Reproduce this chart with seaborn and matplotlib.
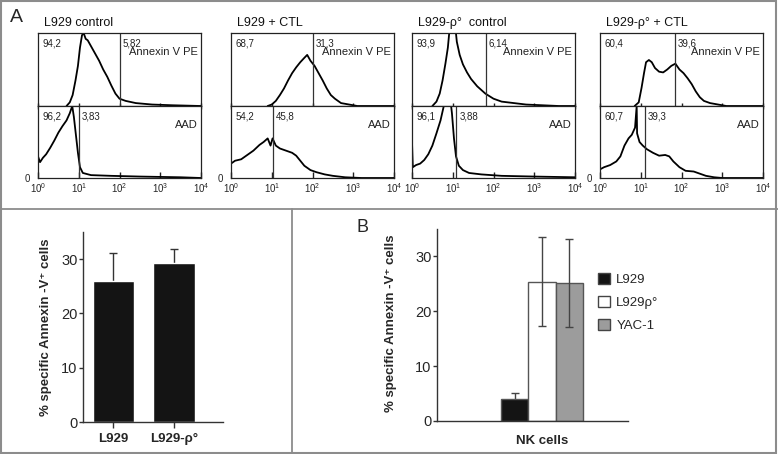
import numpy as np
import matplotlib
matplotlib.use("Agg")
import matplotlib.pyplot as plt
from matplotlib.lines import Line2D
from matplotlib.patches import Patch, Rectangle
from matplotlib.ticker import LogLocator, NullFormatter
import seaborn as sns

# ---------------- panel A: flow histograms ----------------
# x = log10 fluorescence (decade), y = relative cell count (1 = panel top)
titles = ["L929 control", "L929 + CTL", "L929-ρ°  control", "L929-ρ° + CTL"]
ann_left = ["94,2", "68,7", "93,9", "60,4"]
ann_right = ["5,82", "31,3", "6,14", "39,6"]
aad_left = ["96,2", "54,2", "96,1", "60,7"]
aad_right = ["3,83", "45,8", "3,88", "39,3"]
ann_gate = [2.0, 2.02, 1.81, 1.83]
aad_gate = [1.0, 1.04, 1.09, 1.1]
zero_label = ["0", "0", "", "0"]

p1_ann_dec = [0.70, 0.78, 0.85, 0.92, 0.98, 1.03, 1.08, 1.12, 1.17, 1.22, 1.3, 1.4, 1.5, 1.6, 1.7, 1.8, 1.9, 2.0, 2.15, 2.4, 2.8, 3.3, 4.0]
p1_ann_cnt = [0.0, 0.05, 0.15, 0.35, 0.55, 0.8, 0.97, 1.0, 0.92, 0.9, 0.82, 0.72, 0.62, 0.5, 0.4, 0.28, 0.17, 0.1, 0.07, 0.04, 0.02, 0.01, 0.0]
p1_aad_dec = [0.0, 0.05, 0.12, 0.2, 0.3, 0.4, 0.5, 0.6, 0.7, 0.78, 0.84, 0.88, 0.93, 0.98, 1.03, 1.1, 1.3, 1.8, 2.5, 3.5, 4.0]
p1_aad_cnt = [0.3, 0.22, 0.28, 0.33, 0.42, 0.52, 0.63, 0.72, 0.8, 0.9, 1.0, 0.85, 0.6, 0.35, 0.15, 0.07, 0.04, 0.03, 0.02, 0.01, 0.0]

p2_ann_dec = [0.9, 1.0, 1.1, 1.2, 1.3, 1.4, 1.5, 1.6, 1.7, 1.8, 1.87, 1.95, 2.05, 2.15, 2.25, 2.35, 2.45, 2.55, 2.7, 2.9, 3.1, 4.0]
p2_ann_cnt = [0.0, 0.02, 0.07, 0.15, 0.24, 0.35, 0.45, 0.53, 0.6, 0.66, 0.7, 0.62, 0.55, 0.45, 0.35, 0.24, 0.15, 0.1, 0.04, 0.02, 0.0, 0.0]
p2_aad_dec = [0.0, 0.1, 0.25, 0.4, 0.55, 0.7, 0.8, 0.9, 0.97, 1.02, 1.1, 1.2, 1.35, 1.5, 1.6, 1.7, 1.8, 1.95, 2.1, 2.3, 2.5, 2.8, 3.2, 4.0]
p2_aad_cnt = [0.2, 0.24, 0.26, 0.32, 0.38, 0.46, 0.5, 0.55, 0.45, 0.55, 0.45, 0.41, 0.38, 0.35, 0.31, 0.24, 0.17, 0.11, 0.08, 0.05, 0.03, 0.01, 0.0, 0.0]

p3_ann_dec = [0.5, 0.6, 0.68, 0.75, 0.82, 0.88, 0.93, 1.0, 1.06, 1.1, 1.17, 1.25, 1.35, 1.45, 1.6, 1.8, 2.0, 2.2, 2.5, 2.8, 3.2, 3.6, 4.0]
p3_ann_cnt = [0.0, 0.06, 0.17, 0.35, 0.58, 0.8, 1.1, 1.2, 1.1, 0.88, 0.7, 0.57, 0.46, 0.37, 0.27, 0.17, 0.1, 0.06, 0.04, 0.02, 0.01, 0.0, 0.0]
p3_aad_dec = [0.0, 0.02, 0.1, 0.2, 0.3, 0.4, 0.5, 0.6, 0.7, 0.78, 0.85, 0.93, 0.98, 1.03, 1.08, 1.15, 1.25, 1.4, 1.7, 2.2, 3.0, 4.0]
p3_aad_cnt = [0.5, 0.15, 0.18, 0.2, 0.25, 0.33, 0.45, 0.62, 0.8, 1.0, 1.2, 1.15, 0.9, 0.55, 0.3, 0.17, 0.11, 0.07, 0.05, 0.03, 0.02, 0.01]

p4_ann_dec = [0.85, 0.95, 1.02, 1.08, 1.13, 1.2, 1.27, 1.35, 1.45, 1.55, 1.65, 1.75, 1.85, 1.95, 2.05, 2.15, 2.25, 2.35, 2.45, 2.55, 2.7, 2.9, 3.1, 4.0]
p4_ann_cnt = [0.0, 0.05, 0.25, 0.45, 0.6, 0.63, 0.6, 0.52, 0.47, 0.46, 0.5, 0.55, 0.58, 0.5, 0.45, 0.38, 0.3, 0.2, 0.12, 0.07, 0.04, 0.02, 0.0, 0.0]
p4_aad_dec = [0.0, 0.1, 0.25, 0.4, 0.5, 0.6, 0.7, 0.78, 0.86, 0.9, 0.91, 0.97, 1.05, 1.15, 1.3, 1.45, 1.6, 1.7, 1.8, 1.95, 2.1, 2.3, 2.45, 2.6, 2.8, 3.0, 4.0]
p4_aad_cnt = [0.12, 0.15, 0.18, 0.23, 0.3, 0.45, 0.55, 0.6, 0.7, 1.0, 0.62, 0.5, 0.45, 0.4, 0.35, 0.31, 0.32, 0.3, 0.23, 0.15, 0.1, 0.09, 0.06, 0.03, 0.01, 0.0, 0.0]

ann_curves = [(p1_ann_dec, p1_ann_cnt), (p2_ann_dec, p2_ann_cnt),
              (p3_ann_dec, p3_ann_cnt), (p4_ann_dec, p4_ann_cnt)]
aad_curves = [(p1_aad_dec, p1_aad_cnt), (p2_aad_dec, p2_aad_cnt),
              (p3_aad_dec, p3_aad_cnt), (p4_aad_dec, p4_aad_cnt)]

# ---------------- bar charts ----------------
ctl_groups = ["L929", "L929-ρ°"]
ctl_mean = [26.0, 29.3]
ctl_err = [5.1, 2.6]

nk_targets = ["L929", "L929ρ°", "YAC-1"]
nk_mean = [4.0, 25.4, 25.1]
nk_err = [1.1, 8.1, 8.0]
nk_colors = ["#141414", "#ffffff", "#9c9c9c"]

sns.set_theme(style="white")
plt.rcParams["font.family"] = ["Liberation Sans", "DejaVu Sans"]
plt.rcParams["mathtext.fontset"] = "custom"
plt.rcParams["mathtext.rm"] = "Liberation Sans"

W, H = 778, 454
fig = plt.figure(figsize=(W / 100, H / 100), dpi=100)


def box(x0, y0, x1, y1):
    # pixel box (top-left origin) -> figure fraction rect
    return [x0 / W, 1 - y1 / H, (x1 - x0) / W, (y1 - y0) / H]


def ftext(x, y, s, **kw):
    fig.text(x / W, 1 - y / H, s, **kw)


panel_x = [(38, 201), (231, 394), (412, 575), (600, 763)]
spine_c = "#222222"

for i, (x0, x1) in enumerate(panel_x):
    axt = fig.add_axes(box(x0, 33, x1, 106))
    axb = fig.add_axes(box(x0, 106, x1, 178))
    for ax, (dec, cnt), gate in ((axt, ann_curves[i], ann_gate[i]),
                                 (axb, aad_curves[i], aad_gate[i])):
        sns.lineplot(x=10 ** np.array(dec), y=cnt, ax=ax, color="black",
                     lw=1.3, estimator=None, sort=False)
        ax.axvline(10 ** gate, color="#333333", lw=0.9)
        ax.set_xscale("log")
        ax.set_xlim(1, 1e4)
        ax.set_ylim(0, 1)
        ax.set_xlabel("")
        ax.set_ylabel("")
        for s in ax.spines.values():
            s.set_color(spine_c)
            s.set_linewidth(0.9)
        ax.xaxis.set_minor_locator(LogLocator(base=10, subs=np.arange(2, 10)))
        ax.xaxis.set_minor_formatter(NullFormatter())
    axt.set_xticks([1, 10, 100, 1000, 10000])
    axt.set_xticklabels([])
    axt.set_yticks([])
    axt.tick_params(axis="x", which="both", direction="inout", bottom=True,
                    length=4, width=1, color=spine_c)
    axb.set_xticks([1, 10, 100, 1000, 10000])
    axb.set_xticklabels([r"$\mathregular{10^{%d}}$" % k for k in range(5)],
                        fontsize=7)
    axb.set_yticks([0])
    axb.set_yticklabels([zero_label[i]], fontsize=7)
    axb.tick_params(axis="x", which="both", direction="in", bottom=True,
                    length=4, width=1, color=spine_c, pad=2)
    axb.tick_params(axis="y", length=0, pad=6)

    axt.text(0.03, 0.86, ann_left[i], transform=axt.transAxes, fontsize=7,
             va="center", color="#222222")
    axt.annotate(ann_right[i], xy=(10 ** ann_gate[i], 0.86),
                 xycoords=("data", "axes fraction"), xytext=(2, 0),
                 textcoords="offset points", fontsize=7, va="center",
                 color="#222222")
    axt.text(0.98, 0.74, "Annexin V PE", transform=axt.transAxes,
             fontsize=8, ha="right", va="center", color="#222222")
    axb.text(0.03, 0.86, aad_left[i], transform=axb.transAxes, fontsize=7,
             va="center", color="#222222")
    axb.annotate(aad_right[i], xy=(10 ** aad_gate[i], 0.86),
                 xycoords=("data", "axes fraction"), xytext=(2, 0),
                 textcoords="offset points", fontsize=7, va="center",
                 color="#222222")
    axb.text(0.98, 0.74, "AAD", transform=axb.transAxes, fontsize=8,
             ha="right", va="center", color="#222222")
    ftext(x0 + 6, 23, titles[i], fontsize=9, va="center", color="#111111")

ftext(10, 17, "A", fontsize=14, va="center")
ftext(357, 227, "B", fontsize=13, va="center")

ylab = "% specific Annexin -V⁺ cells"

# ---------- left bar chart ----------
ax1 = fig.add_axes(box(83, 232, 223, 422))
sns.barplot(x=ctl_groups, y=ctl_mean, color="#141414", saturation=1,
            width=0.68, ax=ax1, errorbar=None, zorder=2)
# whiskers sit behind the bars so only the upper half shows
ax1.errorbar(x=range(len(ctl_mean)), y=ctl_mean, yerr=ctl_err, fmt="none",
             ecolor="#333333", elinewidth=1, capsize=3, capthick=1, zorder=1)
ax1.set_xlim(-0.504, 1.81)
ax1.set_ylim(0, 35)
ax1.set_yticks([0, 10, 20, 30])
ax1.tick_params(axis="y", labelsize=10.5, length=3, width=1,
                color="#333333", left=True, pad=1)
ax1.tick_params(axis="x", length=4, width=1, color="#333333", bottom=True,
                pad=4)
for lab in ax1.get_xticklabels():
    lab.set_fontweight("bold")
    lab.set_fontsize(9.5)
ax1.set_ylabel(ylab, fontsize=9.5, fontweight="bold")
ax1.yaxis.set_label_coords(-0.22, 0.5)
sns.despine(ax=ax1)
for s in ("left", "bottom"):
    ax1.spines[s].set_color("#333333")
    ax1.spines[s].set_linewidth(1)

# ---------- right bar chart (NK cells) ----------
ax2 = fig.add_axes(box(437, 229, 628, 421))
sns.barplot(x=["NK cells"] * 3, y=nk_mean, hue=nk_targets,
            palette=nk_colors, saturation=1, width=0.43, ax=ax2,
            errorbar=None, edgecolor="#555555", linewidth=1, legend=False,
            zorder=2)
bars = [p for p in ax2.patches if p.get_height() > 0]
for k, p in enumerate(bars):
    cx = p.get_x() + p.get_width() / 2
    ax2.errorbar(x=[cx], y=[nk_mean[k]], yerr=[nk_err[k]], fmt="none",
                 ecolor="#444444", elinewidth=1, capsize=3, capthick=1,
                 zorder=1 if k == 0 else 3)
ax2.set_xlim(-0.55, 0.45)
ax2.set_ylim(0, 35)
ax2.set_yticks([0, 10, 20, 30])
ax2.tick_params(axis="y", labelsize=10.5, length=3, width=1,
                color="#333333", left=True, pad=1)
ax2.tick_params(axis="x", length=0, pad=10)
for lab in ax2.get_xticklabels():
    lab.set_fontweight("bold")
    lab.set_fontsize(9.5)
ax2.set_ylabel(ylab, fontsize=9.5, fontweight="bold")
ax2.yaxis.set_label_coords(-0.21, 0.51)
sns.despine(ax=ax2)
for s in ("left", "bottom"):
    ax2.spines[s].set_color("#333333")
    ax2.spines[s].set_linewidth(1)

handles = [Patch(facecolor=c, edgecolor="#444444", linewidth=1)
           for c in nk_colors]
fig.legend(handles, nk_targets, loc="upper left",
           bbox_to_anchor=(586 / W, 1 - 261 / H), frameon=False,
           fontsize=9.5, handlelength=0.9, handleheight=0.9,
           labelspacing=0.75, handletextpad=0.5)

# ---------- figure frame and dividers ----------
line_c = "#8c8c8c"
fig.add_artist(Rectangle((0.001, 0.002), 0.997, 0.996, fill=False,
                         edgecolor=line_c, lw=1.5, transform=fig.transFigure))
fig.add_artist(Line2D([0, 1], [1 - 209 / H] * 2, color=line_c, lw=1.3,
                      transform=fig.transFigure))
fig.add_artist(Line2D([292 / W] * 2, [0, 1 - 209 / H], color=line_c, lw=1.3,
                      transform=fig.transFigure))

fig.savefig("out.png", dpi=100)
